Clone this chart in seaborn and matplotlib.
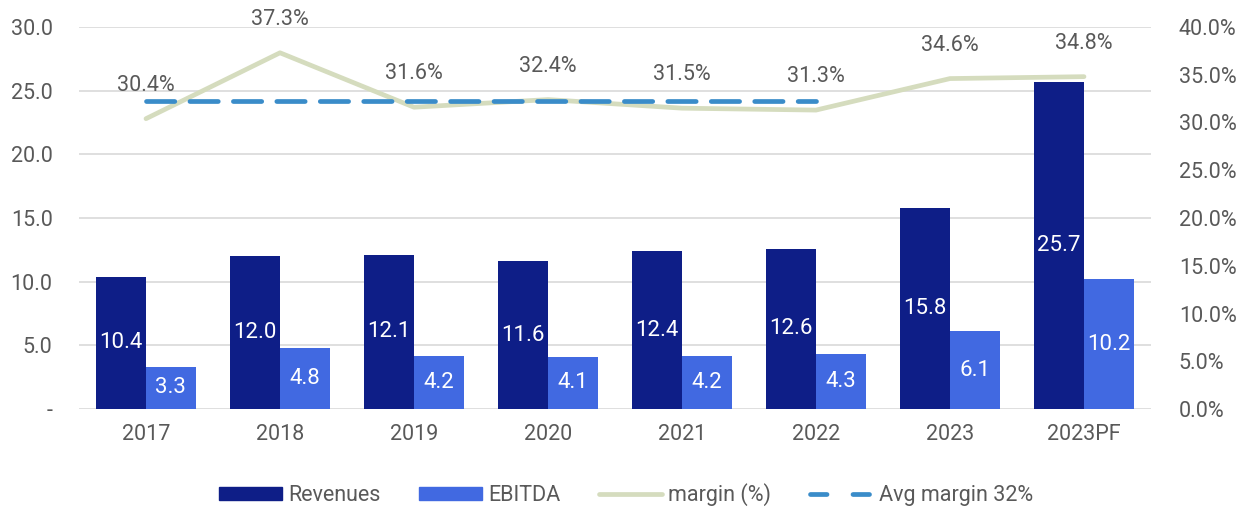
import numpy as np
import pandas as pd
import matplotlib
matplotlib.use("Agg")
import matplotlib.pyplot as plt
import seaborn as sns
from matplotlib.ticker import FuncFormatter
from matplotlib.patches import Patch
from matplotlib.lines import Line2D

years = ["2017", "2018", "2019", "2020", "2021", "2022", "2023", "2023PF"]
revenues = [10.4, 12.0, 12.1, 11.6, 12.4, 12.6, 15.8, 25.7]
ebitda = [3.3, 4.8, 4.2, 4.1, 4.2, 4.3, 6.1, 10.2]
margin = [30.4, 37.3, 31.6, 32.4, 31.5, 31.3, 34.6, 34.8]
avg_years = ["2017", "2018", "2019", "2020", "2021", "2022"]
avg_margin = [32.2, 32.2, 32.2, 32.2, 32.2, 32.2]

c_rev = "#0E1E87"
c_ebit = "#4169E1"
c_margin = "#D5DCBE"
c_avg = "#3A8CC9"
c_text = "#595959"

sns.set_theme(style="white")
plt.rcParams['font.family'] = ['Roboto', 'DejaVu Sans']

df = pd.DataFrame({'year': years * 2,
                   'value': revenues + ebitda,
                   'series': ['Revenues'] * len(years) + ['EBITDA'] * len(years)})

fig = plt.figure(figsize=(12.47, 5.12), dpi=100)
ax = fig.add_axes([79 / 1247, 1 - 409 / 512, (1151 - 79) / 1247, (409 - 27) / 512])
sns.barplot(data=df, x='year', y='value', hue='series', palette=[c_rev, c_ebit],
            width=0.74, gap=0, ax=ax, legend=False, saturation=1, linewidth=0)

ax.set_ylim(0, 30)
ax.set_xlim(-0.5, 7.5)
ax.set_yticks(np.arange(0, 31, 5))
ax.yaxis.set_major_formatter(FuncFormatter(lambda v, p: "-" if v == 0 else f"{v:.1f}"))
ax.grid(axis='y', color='#D9D9D9', linewidth=1.2)
ax.set_axisbelow(True)
for s in ax.spines.values():
    s.set_visible(False)
ax.set_xlabel("")
ax.set_ylabel("")
ax.tick_params(axis='both', labelsize=15.5, colors=c_text, length=0)
ax.tick_params(axis='x', pad=11)
ax.tick_params(axis='y', pad=19)

for cont in ax.containers:
    for bar in cont:
        h = bar.get_height()
        ax.text(bar.get_x() + bar.get_width() / 2, h / 2, f"{h:.1f}", ha='center', va='center',
                color='white', fontsize=16)

ax2 = ax.twinx()
x_pos = list(range(len(years)))
sns.lineplot(x=x_pos, y=margin, ax=ax2, color=c_margin, linewidth=3.4, legend=False)
sns.lineplot(x=list(range(len(avg_years))), y=avg_margin, ax=ax2, color=c_avg, linewidth=3.4,
             legend=False)
ax2.lines[-1].set_dashes([6, 3.2])
ax2.lines[-1].set_dash_capstyle('round')
ax2.set_ylim(0, 40)
ax2.set_yticks(np.arange(0, 41, 5))
ax2.yaxis.set_major_formatter(FuncFormatter(lambda v, p: f"{v:.1f}%"))
ax2.tick_params(axis='y', labelsize=15.5, colors=c_text, length=0, pad=20)
for s in ax2.spines.values():
    s.set_visible(False)
ax2.set_xlim(-0.5, 7.5)

for i, m in enumerate(margin):
    ax2.annotate(f"{m:.1f}%", (i, m), xytext=(0, 24), textcoords='offset points',
                 ha='center', va='center', fontsize=15.5, color=c_text)

handles = [Patch(color=c_rev), Patch(color=c_ebit),
           Line2D([], [], color=c_margin, linewidth=3.4),
           Line2D([], [], color=c_avg, linewidth=3.4, dashes=[3.5, 5.5], dash_capstyle='round')]
labels = ['Revenues', 'EBITDA', 'margin (%)', 'Avg margin 32%']
fig.legend(handles, labels, loc='center', bbox_to_anchor=(626 / 1247, 1 - 495 / 512), ncol=4,
           frameon=False, fontsize=15.5, handlelength=2.9, handleheight=0.56, columnspacing=1.8,
           handletextpad=0.3, labelcolor=c_text)

fig.savefig("out.png", dpi=100)
